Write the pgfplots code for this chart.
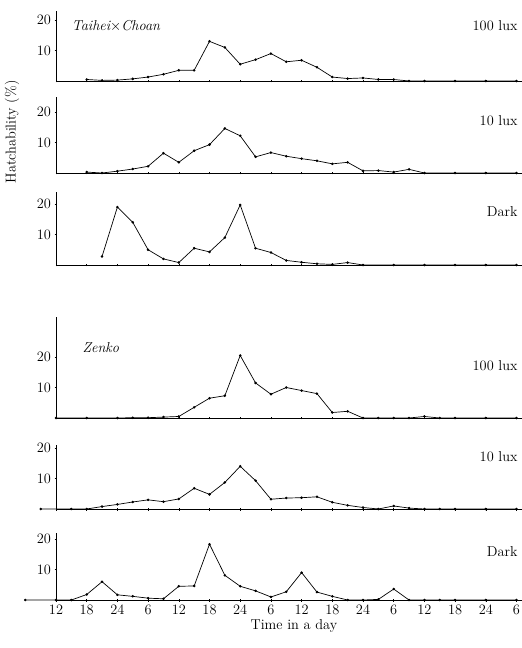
\documentclass[border=0pt]{standalone}
\usepackage{pgfplots}
\pgfplotsset{compat=1.18}
\pgfplotsset{panel/.style={
  x=15.35bp, y=3.05bp, xmin=0, xmax=31, ymin=0,
  axis x line=bottom, axis y line=left,
  axis line style={-, line width=0.6pt},
  xtick={0,2,...,30}, xticklabels={},
  ytick={10,20}, tick style={black, line width=0.5pt},
  major tick length=3pt,
  tick label style={font=\Large},
  label style={font=\Large},
  clip=false, anchor=origin,
  every axis plot post/.append style={black, line width=0.7pt, mark=*, mark size=0.9pt, mark options={fill=black}},
}}
\begin{document}
\begin{tikzpicture}
\useasboundingbox (0,0) rectangle (522bp,-648bp);
% Taihei x Choan 100 lux
\begin{axis}[panel, ymax=23, at={(56bp,-81bp)}]
\addplot coordinates {(2,0.5)(3,0.2)(4,0.3)(5,0.7)(6,1.3)(7,2.2)(8,3.5)(9,3.5)(10,13)(11,11)(12,5.5)(13,7)(14,9)(15,6.3)(16,6.8)(17,4.5)(18,1.3)(19,0.8)(20,1)(21,0.5)(22,0.5)(23,0)(24,0)(26,0)(28,0)(30,0)};
\node[anchor=west,font=\Large\itshape] at (axis cs:0.8,18) {Taihei$\times$Choan};
\node[anchor=east,font=\Large] at (axis cs:30.3,18) {100 lux};
\end{axis}
% 10 lux
\begin{axis}[panel, ymax=25, at={(56bp,-173bp)}]
\addplot coordinates {(2,0.3)(3,0)(4,0.6)(5,1.3)(6,2.2)(7,6.5)(8,3.5)(9,7.3)(10,9.3)(11,14.6)(12,12.2)(13,5.3)(14,6.7)(15,5.5)(16,4.7)(17,4)(18,3)(19,3.5)(20,0.7)(21,0.8)(22,0.3)(23,1.2)(24,0)(26,0)(28,0)(30,0)};
\node[anchor=east,font=\Large] at (axis cs:30.3,17) {10 lux};
\end{axis}
% Dark
\begin{axis}[panel, ymax=24, at={(56bp,-265bp)}]
\addplot coordinates {(3,2.8)(4,19)(5,14)(6,5)(7,2)(8,0.8)(9,5.5)(10,4.3)(11,9)(12,19.7)(13,5.5)(14,4.1)(15,1.5)(16,0.9)(17,0.4)(18,0.2)(19,0.8)(20,0)(22,0)(24,0)(26,0)(28,0)(30,0)};
\node[anchor=east,font=\Large] at (axis cs:30.3,17.5) {Dark};
\end{axis}
% Zenko 100 lux
\begin{axis}[panel, ymax=33, at={(56bp,-418bp)}]
\addplot coordinates {(0,0)(2,0)(4,0)(5,0.1)(6,0.1)(7,0.3)(8,0.5)(9,3.5)(10,6.5)(11,7.3)(12,20.5)(13,11.5)(14,7.8)(15,10)(16,9)(17,8)(18,1.8)(19,2.2)(20,0)(21,0)(22,0)(23,0)(24,0.5)(25,0)(26,0)(28,0)(30,0)};
\node[anchor=west,font=\Large\itshape] at (axis cs:1.5,23) {Zenko};
\node[anchor=east,font=\Large] at (axis cs:30.3,17) {100 lux};
\end{axis}
% Zenko 10 lux
\begin{axis}[panel, ymax=21, at={(56bp,-509bp)}]
\addplot coordinates {(-1,0)(1,0)(2,0)(3,0.8)(4,1.5)(5,2.3)(6,3)(7,2.4)(8,3.3)(9,6.8)(10,4.8)(11,8.7)(12,14)(13,9.3)(14,3.2)(15,3.6)(16,3.7)(17,4)(18,2.2)(19,1.2)(20,0.5)(21,0)(22,1)(23,0.3)(24,0)(25,0)(26,0)(28,0)(30,0)};
\node[anchor=east,font=\Large] at (axis cs:30.3,17) {10 lux};
\end{axis}
% Zenko Dark
\begin{axis}[panel, ymax=22, at={(56bp,-600bp)},
  xticklabels={12,18,24,6,12,18,24,6,12,18,24,6,12,18,24,6},
  xlabel={Time in a day}, xlabel style={yshift=2bp}]
\addplot coordinates {(-2,0)(0,0)(1,0)(2,1.8)(3,6)(4,1.7)(5,1.2)(6,0.6)(7,0.4)(8,4.5)(9,4.6)(10,18.3)(11,8.1)(12,4.5)(13,3)(14,1)(15,2.7)(16,9)(17,2.6)(18,1.2)(19,0)(20,0)(21,0.2)(22,3.6)(23,0)(24,0)(25,0)(26,0)(28,0)(30,0)};
\node[anchor=east,font=\Large] at (axis cs:30.3,16) {Dark};
\end{axis}
\node[rotate=90,font=\Large] at (12bp,-132bp) {Hatchability (\%)};
\end{tikzpicture}
\end{document}
